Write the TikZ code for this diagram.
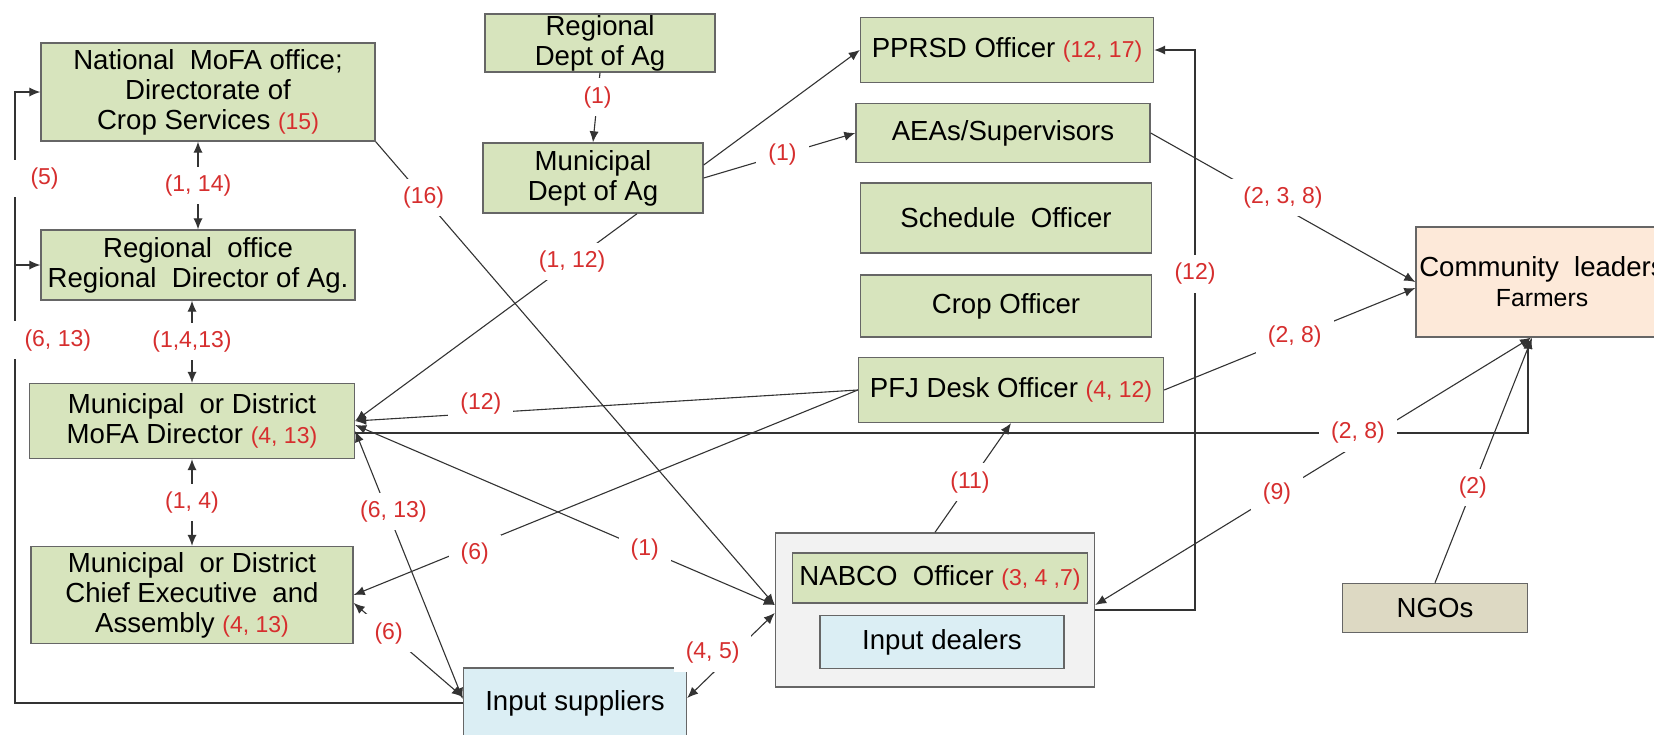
\documentclass[tikz,border=0pt]{standalone}
\usepackage{fontspec}
\setmainfont{Liberation Sans}
\usetikzlibrary{arrows.meta,scopes}

\definecolor{officegreen}{HTML}{D7E4BD}
\definecolor{dealerblue}{HTML}{DBEEF4}
\definecolor{leaderpeach}{HTML}{FDE9D9}
\definecolor{ngotan}{HTML}{DDD9C3}
\definecolor{framegray}{HTML}{F2F2F2}
\definecolor{numred}{RGB}{214,46,46}
\newcommand{\nums}[1]{{\color{numred}\fontsize{11.5}{13}\selectfont #1}}

\begin{document}
\begin{tikzpicture}[x=0.5pt,y=-0.5pt,
    boxbase/.style={rectangle,draw=black!60,line width=0.7pt,inner sep=1pt,align=center,
        font=\fontsize{13.8}{15}\selectfont},
    office/.style={boxbase,fill=officegreen},
    dealer/.style={boxbase,fill=dealerblue},
    leader/.style={boxbase,fill=leaderpeach},
    ngobox/.style={boxbase,fill=ngotan},
    frame/.style={boxbase,fill=framegray},
    conn/.style={draw=black!80,line width=0.55pt,>={Latex[length=5.5pt,width=4.6pt]}},
    lab/.style={fill=white,text=numred,inner xsep=6pt,inner ysep=4pt,
        font=\fontsize{11.5}{13}\selectfont},
    sidelab/.style={lab,anchor=west,xshift=-1.5pt},
]
\useasboundingbox (0,0) rectangle (1654,734);
\clip (0,0) rectangle (1654,734);

% left column
\node[office,minimum width=167pt,minimum height=49pt] (natl) at (208,92)
    {National~ MoFA office;\\Directorate of\\Crop Services \nums{(15)}};
\node[office,minimum width=157pt,minimum height=35pt] (regoff) at (198,265)
    {Regional~ office\\Regional~ Director of Ag.};
\node[office,minimum width=162.5pt,minimum height=37.5pt] (modir) at (192,421)
    {Municipal~ or District\\MoFA Director \nums{(4, 13)}};
\node[office,minimum width=161pt,minimum height=48.5pt] (chief) at (192,595)
    {Municipal~ or District\\Chief Executive~ and\\Assembly \nums{(4, 13)}};
\node[dealer,minimum width=111.5pt,minimum height=35pt] (insup) at (575,703) {Input suppliers};

% middle
\node[office,minimum width=115pt,minimum height=29pt,inner ysep=0pt] (regdept) at (600,43)
    {Regional\\Dept of Ag};
\node[office,minimum width=110pt,minimum height=35pt] (munidept) at (593,178)
    {Municipal\\Dept of Ag};
\node[office,minimum width=146.5pt,minimum height=32.5pt] (pprsd) at (1007,50)
    {PPRSD Officer \nums{(12, 17)}};
\node[office,minimum width=147pt,minimum height=29.5pt] (aeas) at (1003,133) {AEAs/Supervisors};
\node[office,minimum width=145.5pt,minimum height=35pt] (sched) at (1006,218) {Schedule~ Officer};
\node[office,minimum width=145.5pt,minimum height=31pt] (crop) at (1006,306) {Crop Officer};
\node[office,minimum width=152.5pt,minimum height=32.5pt] (pfj) at (1011,390)
    {PFJ Desk Officer \nums{(4, 12)}};

% NABCO group
\node[frame,minimum width=159.5pt,minimum height=77pt] (nabco) at (935,610) {};
\node[office,minimum width=147.5pt,minimum height=25pt] (nabcoof) at (940,578)
    {NABCO~ Officer \nums{(3, 4 ,7)}};
\node[dealer,minimum width=122pt,minimum height=26.5pt] (indeal) at (942,642) {Input dealers};

% right
\node[leader,minimum width=126pt,minimum height=55pt] (comm) at (1542,282)
    {Community~ leaders\\{\fontsize{12.4}{14}\selectfont Farmers}};
\node[ngobox,minimum width=92.5pt,minimum height=24.5pt] (ngo) at (1435,608) {NGOs};

\coordinate (lc) at (15,703);
\coordinate (r12) at (1195,50);

{[conn]
    \draw[<->] (regoff.north |- natl.south) -- node[lab]{(1, 14)} (regoff.north);
    \draw[<->] (modir.north |- regoff.south) -- node[lab]{(1,4,13)} (modir.north);
    \draw[<->] (modir.south) -- node[lab]{(1, 4)} (chief.north);
    \draw[->] (insup.west) -- (lc) |- node[sidelab,pos=0.297]{(6, 13)}
        node[sidelab,pos=0.429]{\hspace{3pt}(5)} (natl.west);
    \draw[->] (lc |- regoff.west) -- (regoff.west);

    \draw[->] (regdept.south) -- node[lab,pos=0.35]{(1)} (munidept.north);
    \draw[->] ([yshift=6.5pt]munidept.east) -- (pprsd.west);
    \draw[->] (munidept.east) -- node[lab,pos=0.52]{(1)} (aeas.west);
    \draw[->] ([xshift=22pt]munidept.south) -- node[lab,pos=0.23]{(1, 12)} (modir.east);
    \draw[->] (natl.south east) -- node[lab,pos=0.12]{(16)} ([yshift=2.5pt]nabco.west);

    \draw[->] (pfj.west) -- node[lab,pos=0.75,yshift=5pt]{(12)} (modir.east);
    \draw[->] (pfj.west) -- node[lab,pos=0.76,yshift=-4pt]{(6)} (chief.east);
    \draw[<->] ([yshift=-2pt]modir.east) -- node[lab,pos=0.69]{(1)} ([yshift=2.5pt]nabco.west);
    \draw[<->] ([yshift=-5pt]modir.east) -- node[lab,pos=0.3,xshift=3pt]{(6, 13)} ([yshift=2pt]insup.west);
    \draw[<->] ([yshift=-4pt]chief.east) -- node[lab,pos=0.32]{(6)} ([yshift=3pt]insup.west);
    \draw[<->] ([yshift=2.5pt]insup.east) -- node[lab,pos=0.53,xshift=-10.5pt]{(4, 5)} ([yshift=-1.5pt]nabco.west);

    \draw[->] (nabco.east) -| node[lab,pos=0.8]{(12)} (r12) -- (pprsd.east);
    \draw[->] (nabco.north) -- node[lab,pos=0.46]{(11)} (pfj.south);

    \draw[<->] ([yshift=2.5pt]nabco.east) -- node[lab,pos=0.417]{(9)} ([xshift=-5.5pt]comm.south);
    \draw[->] (ngo.north) -- node[lab,pos=0.39]{(2)} ([xshift=-5pt]comm.south);
    \draw[->] (aeas.east) -- node[lab,pos=0.5,yshift=5pt]{(2, 3, 8)} (comm.west);
    \draw[->] (pfj.east) -- node[lab,pos=0.52]{(2, 8)} ([yshift=-3pt]comm.west);
    \draw[->] ([yshift=-6pt]modir.east) -| node[lab,pos=0.4275]{(2, 8)} ([xshift=-7pt]comm.south);
}
\end{tikzpicture}
\end{document}
